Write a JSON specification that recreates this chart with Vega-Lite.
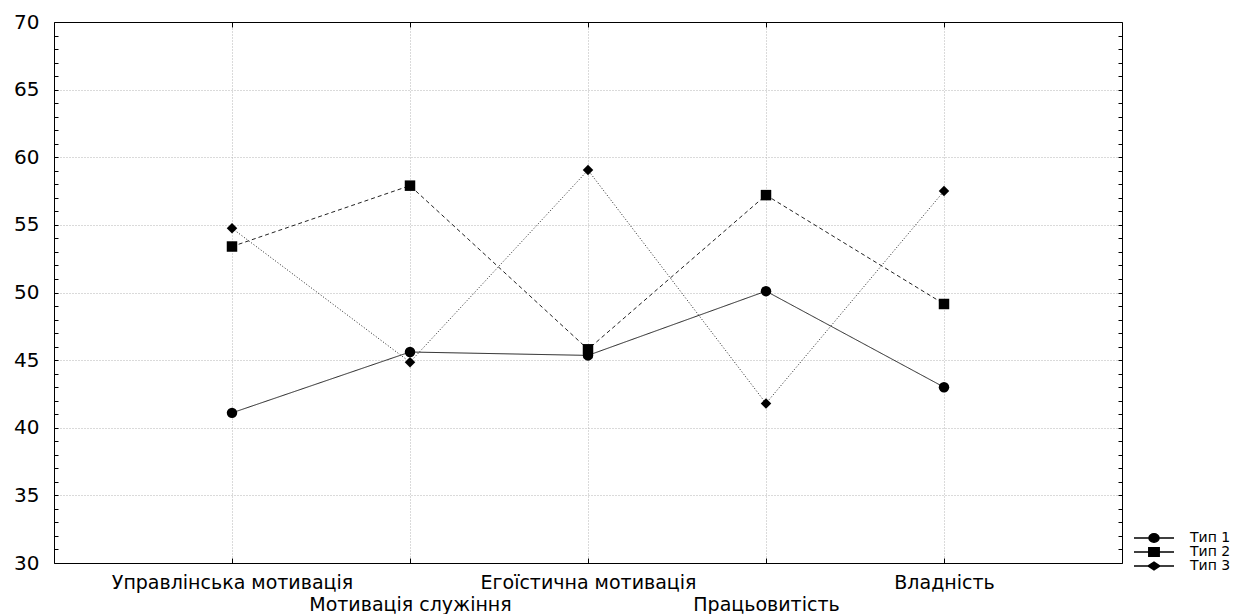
{
  "$schema": "https://vega.github.io/schema/vega-lite/v6.json",
  "width": 1068,
  "height": 541,
  "autosize": "none",
  "padding": {"left": 54, "top": 22, "right": 133, "bottom": 51},
  "background": "white",
  "config": {
    "view": {"stroke": null},
    "axis": {"domainColor": "black", "domainWidth": 1, "tickColor": "black", "labelColor": "black", "title": null},
    "legend": {"padding": 0}
  },
  "data": {
    "values": [
      {"Показник": "Управлінська мотивація", "Тип": "Тип 1", "Значення": 41.1},
      {"Показник": "Управлінська мотивація", "Тип": "Тип 2", "Значення": 53.4},
      {"Показник": "Управлінська мотивація", "Тип": "Тип 3", "Значення": 54.75},
      {"Показник": "Мотивація служіння", "Тип": "Тип 1", "Значення": 45.6},
      {"Показник": "Мотивація служіння", "Тип": "Тип 2", "Значення": 57.9},
      {"Показник": "Мотивація служіння", "Тип": "Тип 3", "Значення": 44.85},
      {"Показник": "Егоїстична мотивація", "Тип": "Тип 1", "Значення": 45.35},
      {"Показник": "Егоїстична мотивація", "Тип": "Тип 2", "Значення": 45.8},
      {"Показник": "Егоїстична мотивація", "Тип": "Тип 3", "Значення": 59.05},
      {"Показник": "Працьовитість", "Тип": "Тип 1", "Значення": 50.1},
      {"Показник": "Працьовитість", "Тип": "Тип 2", "Значення": 57.2},
      {"Показник": "Працьовитість", "Тип": "Тип 3", "Значення": 41.8},
      {"Показник": "Владність", "Тип": "Тип 1", "Значення": 43.0},
      {"Показник": "Владність", "Тип": "Тип 2", "Значення": 49.15},
      {"Показник": "Владність", "Тип": "Тип 3", "Значення": 57.5}
    ]
  },
  "layer": [
    {
      "mark": {"type": "line", "color": "#222222", "strokeWidth": 1},
      "encoding": {
        "x": {
          "field": "Показник", "type": "nominal",
          "sort": ["Управлінська мотивація", "Мотивація служіння", "Егоїстична мотивація", "Працьовитість", "Владність"],
          "scale": {"type": "point", "padding": 1},
          "axis": {
            "orient": "bottom",
            "labelAngle": 0,
            "labelFont": "DejaVu Sans",
            "labelFontSize": 19,
            "labelLimit": 0,
            "labelPadding": 15,
            "labelLineHeight": 22,
            "labelExpr": "indexof(['Мотивація служіння','Працьовитість'], datum.value) >= 0 ? ['', datum.label] : datum.label",
            "tickSize": -5,
            "grid": true,
            "gridColor": "#b5b5b5",
            "gridDash": [1, 2],
            "gridWidth": 1
          }
        },
        "y": {
          "field": "Значення", "type": "quantitative",
          "scale": {"domain": [30, 70], "nice": false, "zero": false},
          "axis": {
            "orient": "left",
            "values": [30,31,32,33,34,35,36,37,38,39,40,41,42,43,44,45,46,47,48,49,50,51,52,53,54,55,56,57,58,59,60,61,62,63,64,65,66,67,68,69,70],
            "labelExpr": "datum.value % 5 === 0 ? datum.label : ''",
            "labelFont": "DejaVu Sans",
            "labelFontSize": 20,
            "labelPadding": 19,
            "tickSize": -4,
            "grid": true,
            "gridColor": "#b5b5b5",
            "gridDash": [1, 2],
            "gridWidth": 1,
            "gridOpacity": {"condition": {"test": "datum.value % 5 === 0", "value": 1}, "value": 0}
          }
        },
        "strokeDash": {
          "field": "Тип", "type": "nominal",
          "scale": {"domain": ["Тип 1", "Тип 2", "Тип 3"], "range": [[1, 0], [4, 3], [1, 2]]},
          "legend": null
        }
      }
    },
    {
      "mark": {"type": "point", "filled": true, "color": "black", "opacity": 1, "size": 110},
      "encoding": {
        "x": {
          "field": "Показник", "type": "nominal",
          "sort": ["Управлінська мотивація", "Мотивація служіння", "Егоїстична мотивація", "Працьовитість", "Владність"],
          "scale": {"type": "point", "padding": 1},
          "axis": {"orient": "top", "labels": false, "tickSize": -5, "grid": false}
        },
        "y": {
          "field": "Значення", "type": "quantitative",
          "scale": {"domain": [30, 70], "nice": false, "zero": false},
          "axis": {
            "orient": "right",
            "values": [30,31,32,33,34,35,36,37,38,39,40,41,42,43,44,45,46,47,48,49,50,51,52,53,54,55,56,57,58,59,60,61,62,63,64,65,66,67,68,69,70],
            "labels": false, "tickSize": -4, "grid": false
          }
        },
        "shape": {
          "field": "Тип", "type": "nominal",
          "scale": {"domain": ["Тип 1", "Тип 2", "Тип 3"], "range": ["circle", "square", "diamond"]},
          "legend": null
        }
      }
    },
    {
      "transform": [{"filter": "false"}],
      "mark": {"type": "point", "filled": true, "color": "black", "stroke": "black", "strokeWidth": 1, "opacity": 1},
      "encoding": {
        "shape": {
          "field": "Тип", "type": "nominal",
          "scale": {
            "domain": ["Тип 1", "Тип 2", "Тип 3"],
            "range": [
              "M-1,0L1,0M-0.25,0A0.25,0.21 0 1,0 0.25,0A0.25,0.21 0 1,0 -0.25,0Z",
              "M-1,0L1,0M-0.26,-0.21H0.26V0.21H-0.26Z",
              "M-1,0L1,0M-0.29,0L0,-0.19L0.29,0L0,0.19Z"
            ]
          },
          "legend": {
            "title": null,
            "orient": "none",
            "legendX": 1079,
            "legendY": 509,
            "symbolSize": 1600,
            "symbolOpacity": 1,
            "labelFont": "DejaVu Sans",
            "labelFontSize": 14,
            "labelColor": "black",
            "labelOffset": 15,
            "rowPadding": 0,
            "clipHeight": 14,
            "encode": {
              "symbols": {
                "update": {
                  "fill": {"value": "black"},
                  "stroke": {"value": "#333333"},
                  "strokeWidth": {"value": 1},
                  "strokeDash": {"signal": "datum.value === 'Тип 2' ? [3, 2] : datum.value === 'Тип 3' ? [1, 1.5] : [1, 0]"},
                  "opacity": {"value": 1}
                }
              }
            }
          }
        },
        "strokeDash": {
          "field": "Тип", "type": "nominal",
          "legend": {
            "title": null,
            "encode": {
              "symbols": {
                "update": {
                  "fill": {"value": "black"},
                  "stroke": {"value": "#333333"},
                  "strokeWidth": {"value": 1},
                  "strokeDash": {"signal": "datum.value === 'Тип 2' ? [3, 2] : datum.value === 'Тип 3' ? [1, 1.5] : [1, 0]"},
                  "opacity": {"value": 1}
                }
              }
            }
          }
        }
      }
    }
  ],
  "resolve": {
    "axis": {"x": "independent", "y": "independent"},
    "scale": {"shape": "independent"}
  }
}
